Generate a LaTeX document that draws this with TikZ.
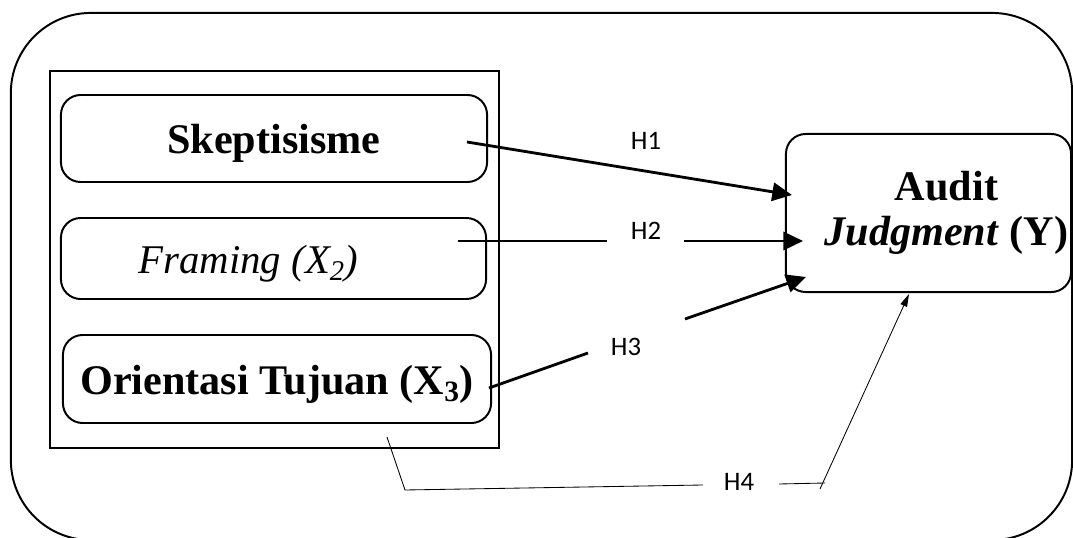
\documentclass[tikz,border=0pt]{standalone}
\usepackage{fontspec}
\setmainfont{Liberation Serif}
\newfontfamily\hfont{Carlito}
\usetikzlibrary{arrows.meta}
\tikzset{box/.style={draw=black,line width=1.4pt,rounded corners=14pt,inner sep=0pt,align=center,font=\fontsize{30}{32}\selectfont\bfseries},varbox/.style={box,text height=28pt,text depth=6pt},arrow/.style={-{Triangle[length=14pt,width=13pt]},line width=2pt},thinarrow/.style={-{Triangle[length=9pt,width=5pt]},line width=0.6pt},lab/.style={font=\hfont\fontsize{19}{22}\selectfont,inner sep=0pt}}

\begin{document}
\begin{tikzpicture}[x=0.025cm,y=-0.025cm]
\useasboundingbox (0,0) rectangle (1073,538);
\node[box,rounded corners=2cm,minimum width=26.525cm,minimum height=13.175cm] (frame) at (541.5,276.5) {};
\node[draw,line width=1.4pt,inner sep=0pt,minimum width=11.225cm,minimum height=9.425cm] (grp) at (274.5,259.5) {};
\node[varbox,minimum width=10.65cm,minimum height=2.175cm] (skep) at (274,138.5) {Skeptisisme};
\node[varbox,font=\fontsize{29}{32}\selectfont\itshape,minimum width=10.625cm,minimum height=2.025cm] (fram) at (273.5,258.5) {Framing (X\textsubscript{2})\hspace*{1.25cm}};
\node[varbox,minimum width=10.7cm,minimum height=2.2cm] (orient) at (277,379) {Orientasi Tujuan (X\textsubscript{3})};
\node[box,minimum width=7.125cm,minimum height=3.95cm] (audit) at (928.5,213) {\hspace*{0.9cm}Audit\\\hspace*{0.9cm}\textit{Judgment} (Y)};
\node[lab] (h1) at (646,141) {H1};
\node[lab] (h2) at (646,231) {H2};
\node[lab] (h3) at (626,347) {H3};
\node[lab] (h4) at (739,482) {H4};
\coordinate (h1a) at (467,142);\coordinate (h1b) at (792,195);
\coordinate (h2a) at (458,241);\coordinate (h2b) at (607,241);\coordinate (h2c) at (684,241);\coordinate (h2d) at (803,241);
\coordinate (h3a) at (489,388);\coordinate (h3b) at (588,353);\coordinate (h3c) at (685,319);\coordinate (h3d) at (806,277);
\coordinate (h4a) at (387,437);\coordinate (h4b) at (405,490);\coordinate (h4c) at (703,485);\coordinate (h4d) at (779,484);\coordinate (h4e) at (825,483);\coordinate (h4f) at (820,489);\coordinate (h4g) at (909,294);
\draw[arrow](h1a)--(h1b);
\draw[line width=2pt](h2a)--(h2b);\draw[arrow](h2c)--(h2d);
\draw[line width=2pt](h3a)--(h3b);\draw[arrow](h3c)--(h3d);
\draw[line width=0.6pt](h4a)--(h4b)--(h4c);\draw[line width=0.6pt](h4d)--(h4e);\draw[thinarrow](h4f)--(h4g);
\end{tikzpicture}
\end{document}
